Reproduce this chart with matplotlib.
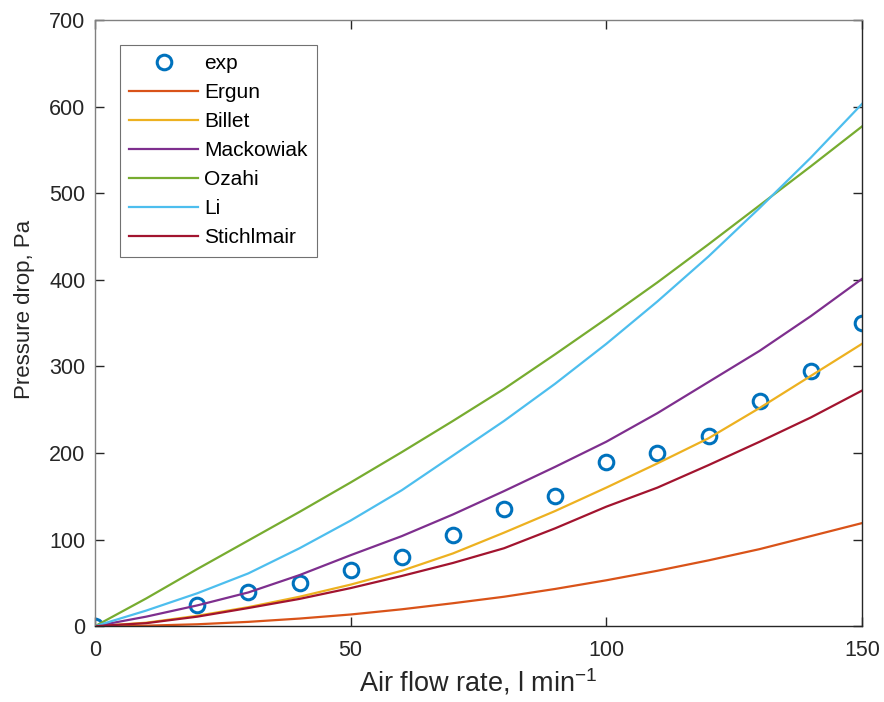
import numpy as np
import matplotlib; matplotlib.use("Agg"); import matplotlib.pyplot as plt

# experimental points
X_EXP = [0, 20, 30, 40, 50, 60, 70, 80, 90, 100, 110, 120, 130, 140, 150]
Y_EXP = [0, 25, 40, 50, 65, 80, 105, 135, 150, 190, 200, 220, 260, 295, 350]

# model curves
X_MOD = [0, 10, 20, 30, 40, 50, 60, 70, 80, 90, 100, 110, 120, 130, 140, 150]
ERGUN = [0, 0.6, 2.2, 5, 8.8, 13.5, 19.5, 26.5, 34, 43, 53, 64, 76, 89, 104, 119]
BILLET = [0, 4, 12, 22, 34, 48, 64, 84, 108, 133, 160, 188, 217, 252, 289, 326]
MACKOWIAK = [0, 11, 24, 39, 59, 82, 104, 129, 156, 184, 213, 246, 282, 318, 358, 401]
OZAHI = [0, 32, 66, 99, 132, 166, 201, 237, 274, 314, 355, 397, 441, 486, 531, 577]
LI = [0, 18, 38, 61, 90, 122, 157, 197, 237, 280, 326, 375, 427, 483, 541, 603]
STICHLMAIR = [0, 3.5, 11, 21, 31.5, 44, 58, 73, 90, 113, 138, 160, 186, 213, 241, 272]

plt.rcParams.update({
    "font.family": ["Liberation Sans", "DejaVu Sans"],
    "mathtext.fontset": "custom", "mathtext.rm": "Liberation Sans",
    "mathtext.it": "Liberation Sans", "mathtext.default": "regular",
})

fig = plt.figure(figsize=(8.84, 7.02), dpi=100)
ax = fig.add_axes([0.1075, 0.108, 0.8675, 0.8635])

ax.plot(X_EXP, Y_EXP, "o", ms=10.5, mfc="none", mec="#0072BD", mew=2.2, label="exp")
curves = [("Ergun", ERGUN, "#D95319"), ("Billet", BILLET, "#EDB120"),
          ("Mackowiak", MACKOWIAK, "#7E2F8E"), ("Ozahi", OZAHI, "#77AC30"),
          ("Li", LI, "#4DBEEE"), ("Stichlmair", STICHLMAIR, "#A2142F")]
for name, y, c in curves:
    ax.plot(X_MOD, y, "-", color=c, lw=1.6, label=name)

ax.set_xlim(0, 150); ax.set_ylim(0, 700)
ax.set_xticks([0, 50, 100, 150]); ax.set_yticks(range(0, 701, 100))
ax.tick_params(direction="in", top=True, right=True, length=6.5, width=1,
               labelsize=15.5, colors="0.15", labelcolor="0.15")
ax.tick_params(axis="x", pad=10)
ax.tick_params(axis="y", pad=7)
# MATLAB-style box: left/top edges render lighter
for side, s in ax.spines.items():
    s.set_linewidth(1)
    s.set_color("0.5" if side in ("left", "top") else "0.15")
ax.set_xlabel("Air flow rate, l min$^{-1}$", fontsize=19.5, color="0.15", labelpad=4)
ax.set_ylabel("Pressure drop, Pa", fontsize=16, color="0.15")
ax.yaxis.set_label_coords(-0.078, 0.523)

leg = ax.legend(loc="upper left", bbox_to_anchor=(0.0326, 0.959), borderaxespad=0,
                fontsize=15, frameon=True, fancybox=False, handlelength=3.3,
                labelspacing=0.48, borderpad=0.45, handletextpad=0.3)
leg.get_frame().set_edgecolor("0.3"); leg.get_frame().set_linewidth(0.8)

fig.savefig("out.png", dpi=100)
